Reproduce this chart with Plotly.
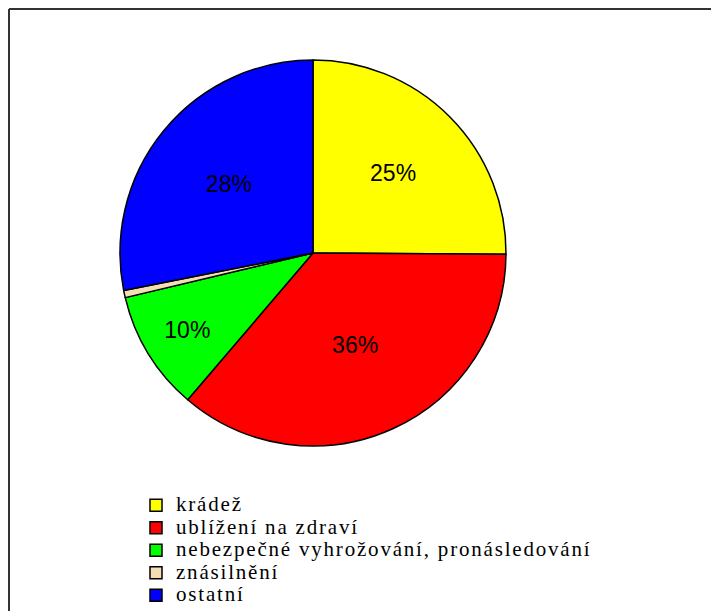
import plotly.graph_objects as go

categories = ["krádež", "ublížení na zdraví", "nebezpečné vyhrožování, pronásledování", "znásilnění", "ostatní"]
values = [25, 36, 10, 0.6, 28]
value_labels = ["25%", "36%", "10%", "", "28%"]
colors = ["#FFFF00", "#FF0000", "#00FF00", "#F5DEB3", "#0000FF"]

W, H = 719, 611
OFF = 8  # page body margin

def px(x):
    return (x - OFF) / W

def py(y):
    return 1 - (y - OFF) / H

legend_labels = ['<span style="font-size:21px;letter-spacing:1.8px">%s</span>' % c for c in categories]

fig = go.Figure(go.Pie(
    labels=legend_labels,
    values=values,
    text=value_labels,
    textinfo="text",
    textposition="inside",
    insidetextorientation="horizontal",
    textfont=dict(family="Liberation Sans, Arial", size=23, color="black"),
    sort=False,
    direction="clockwise",
    rotation=0,
    marker=dict(colors=colors, line=dict(color="black", width=1.5)),
    domain=dict(x=[px(120), px(506)], y=[py(446), py(60)]),
    hoverinfo="skip",
))

fig.add_shape(type="line", xref="paper", yref="paper", x0=px(9), x1=1, y0=py(9), y1=py(9),
              line=dict(color="#333333", width=2))
fig.add_shape(type="line", xref="paper", yref="paper", x0=px(9), x1=px(9), y0=0, y1=py(9),
              line=dict(color="#333333", width=2))

fig.update_layout(
    width=W, height=H,
    margin=dict(l=0, r=0, t=0, b=0),
    paper_bgcolor="white", plot_bgcolor="white",
    showlegend=True,
    legend=dict(
        x=px(136), xanchor="left",
        y=py(489), yanchor="top",
        font=dict(family="Liberation Serif, Times New Roman", size=15, color="black"),
        bgcolor="rgba(0,0,0,0)",
        traceorder="normal",
    ),
)

fig.write_html("out.html")
